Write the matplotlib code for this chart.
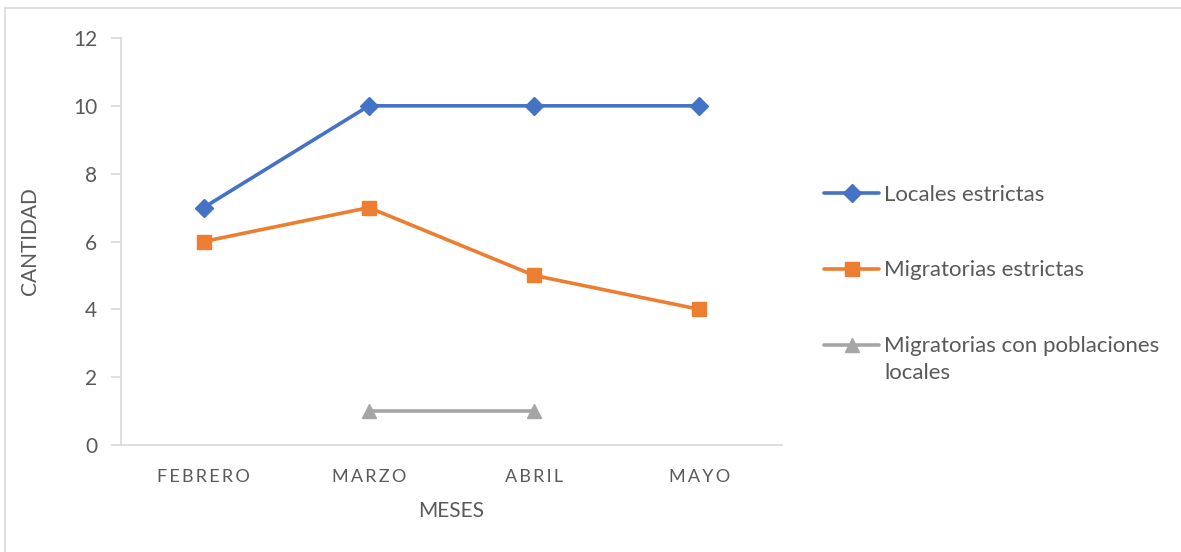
import numpy as np
import matplotlib
matplotlib.use("Agg")
import matplotlib.pyplot as plt
from matplotlib.lines import Line2D
from matplotlib.legend_handler import HandlerLine2D
import textwrap

months = ["FEBRERO", "MARZO", "ABRIL", "MAYO"]
locales_estrictas = [7, 10, 10, 10]
migratorias_estrictas = [6, 7, 5, 4]
migratorias_con_poblaciones = [np.nan, 1, 1, np.nan]
series_names = ["Locales estrictas", "Migratorias estrictas", "Migratorias con poblaciones locales"]

plt.rcParams['font.family'] = ['Lato', 'DejaVu Sans']
TXT = '#595959'
GRID = '#D9D9D9'

fig = plt.figure(figsize=(11.81, 5.52), dpi=100)
# chart border (left and top edges visible)
fig.add_artist(Line2D([5/1181, 5/1181], [0, 1 - 8/552], transform=fig.transFigure, color=GRID, lw=1.2))
fig.add_artist(Line2D([5/1181, 1.0], [1 - 8/552, 1 - 8/552], transform=fig.transFigure, color=GRID, lw=1.2))

ax = fig.add_axes([121/1181, 1 - 445/552, (782 - 121)/1181, (445 - 38)/552])

x = np.arange(len(months))
styles = [
    dict(color='#4472C4', marker='D', ms=9),
    dict(color='#ED7D31', marker='s', ms=10.5),
    dict(color='#A5A5A5', marker='^', ms=10.5),
]
handles = []
for vals, name, st in zip([locales_estrictas, migratorias_estrictas, migratorias_con_poblaciones],
                          series_names, styles):
    h, = ax.plot(x, vals, color=st['color'], lw=2.6, marker=st['marker'], ms=st['ms'],
                 markerfacecolor=st['color'], markeredgecolor=st['color'],
                 label=textwrap.fill(name, 27), solid_capstyle='round')
    handles.append(h)

ax.set_xlim(-0.5, len(months) - 0.5)
ax.set_ylim(0, 12)
ax.set_yticks(range(0, 13, 2))
ax.set_xticks(x)
spaced = ['\u2009'.join(m) for m in months]
ax.set_xticklabels(spaced, fontsize=13, color=TXT)
ax.tick_params(axis='y', labelsize=15, labelcolor=TXT, color=GRID, length=7, width=1.2, pad=10)
ax.tick_params(axis='x', length=0, pad=17)
for s in ['top', 'right']:
    ax.spines[s].set_visible(False)
for s in ['left', 'bottom']:
    ax.spines[s].set_color(GRID)
    ax.spines[s].set_linewidth(1.2)

ax.set_xlabel("MESES", fontsize=15, color=TXT, labelpad=12)
ax.set_ylabel("CANTIDAD", fontsize=15, color=TXT, labelpad=24)


class TopAligned(HandlerLine2D):
    def create_artists(self, legend, orig_handle, xdescent, ydescent, width, height, fontsize, trans):
        arts = super().create_artists(legend, orig_handle, xdescent, ydescent, width, height,
                                      fontsize, trans)
        for a in arts:
            a.set_ydata(np.asarray(a.get_ydata(), dtype=float) + 10.5)
        return arts


leg = fig.legend(handles=handles, loc='upper left', bbox_to_anchor=(815/1181, 1 - 176/552),
                 frameon=False, fontsize=16, labelcolor=TXT, handlelength=2.5, handletextpad=0.2,
                 labelspacing=2.5, borderaxespad=0, handler_map={handles[2]: TopAligned()})
for t in leg.get_texts():
    t.set_linespacing(1.45)

fig.savefig("out.png", dpi=100)
